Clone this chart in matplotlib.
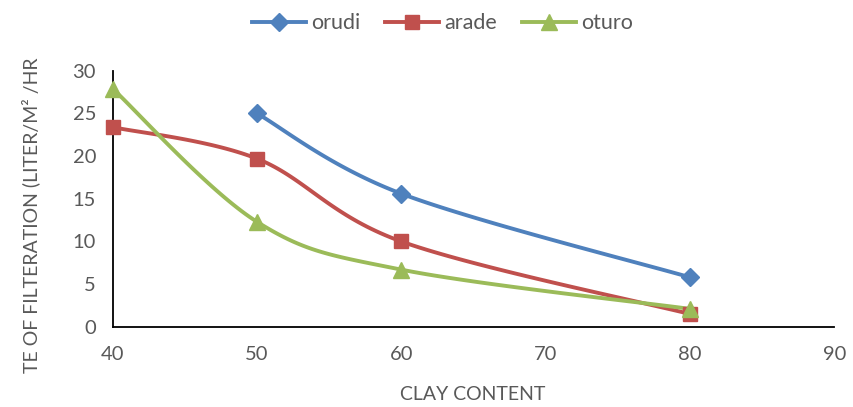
import numpy as np
import matplotlib
matplotlib.use("Agg")
import matplotlib.pyplot as plt

clay = [40, 50, 60, 80]
orudi = [np.nan, 25.0, 15.6, 5.8]
arade = [23.4, 19.7, 10.0, 1.5]
oturo = [27.9, 12.3, 6.7, 2.1]

series = [("orudi", orudi, "#4F81BD", "D", 9),
          ("arade", arade, "#C0504D", "s", 10.5),
          ("oturo", oturo, "#9BBB59", "^", 11.5)]

plt.rcParams['font.family'] = ['Lato', 'DejaVu Sans']


def smooth(xs, ys, n=40):
    pts = [(x, y) for x, y in zip(xs, ys) if not np.isnan(y)]
    P = np.array(pts, dtype=float)
    out = [P[0]]
    m = len(P)
    t = np.linspace(0, 1, n)[1:, None]
    for i in range(m - 1):
        p0 = P[i - 1] if i > 0 else P[i]
        p1 = P[i]
        p2 = P[i + 1]
        p3 = P[i + 2] if i + 2 < m else P[i + 1]
        c1 = p1 + (p2 - p0) / 6.0
        c2 = p2 - (p3 - p1) / 6.0
        seg = ((1 - t) ** 3) * p1 + 3 * ((1 - t) ** 2) * t * c1 + 3 * (1 - t) * t ** 2 * c2 + t ** 3 * p2
        out.extend(seg)
    out = np.array(out)
    return out[:, 0], out[:, 1]


fig = plt.figure(figsize=(8.54, 4.07), dpi=100)
ax = fig.add_axes([0.132, 0.197, 0.845, 0.629])

for name, vals, col, mk, ms in series:
    sx, sy = smooth(clay, vals)
    ax.plot(sx, sy, color=col, lw=2.8, solid_capstyle='round', zorder=2, clip_on=False)
    ax.plot(clay, vals, linestyle='none', marker=mk, color=col, markersize=ms, zorder=3, clip_on=False)
    ax.plot([], [], color=col, lw=2.8, marker=mk, markersize=ms, label=name)

ax.set_xlim(40, 90)
ax.set_ylim(0, 30)
ax.set_xticks([40, 50, 60, 70, 80, 90])
ax.set_yticks([0, 5, 10, 15, 20, 25, 30])
for s in ['top', 'right']:
    ax.spines[s].set_visible(False)
for s in ['left', 'bottom']:
    ax.spines[s].set_color('black')
    ax.spines[s].set_linewidth(1.3)
ax.tick_params(length=0, labelsize=14.5, labelcolor='#595959')
ax.tick_params(axis='x', pad=14)
ax.tick_params(axis='y', pad=12)

fig.text(0.036, 0.47, "TE OF FILTERATION (LITER/M² /HR", rotation=90, ha='center', va='center',
         fontsize=14, color='#595959')
fig.text(0.553, 0.03, "CLAY CONTENT", ha='center', va='center', fontsize=14, color='#595959')

leg = fig.legend(loc='upper center', bbox_to_anchor=(0.518, 1.015), ncol=3, frameon=False,
                 fontsize=15.5, labelcolor='#595959', handlelength=2.5, columnspacing=1.15, handletextpad=0.25)

fig.savefig("out.png", dpi=100)
